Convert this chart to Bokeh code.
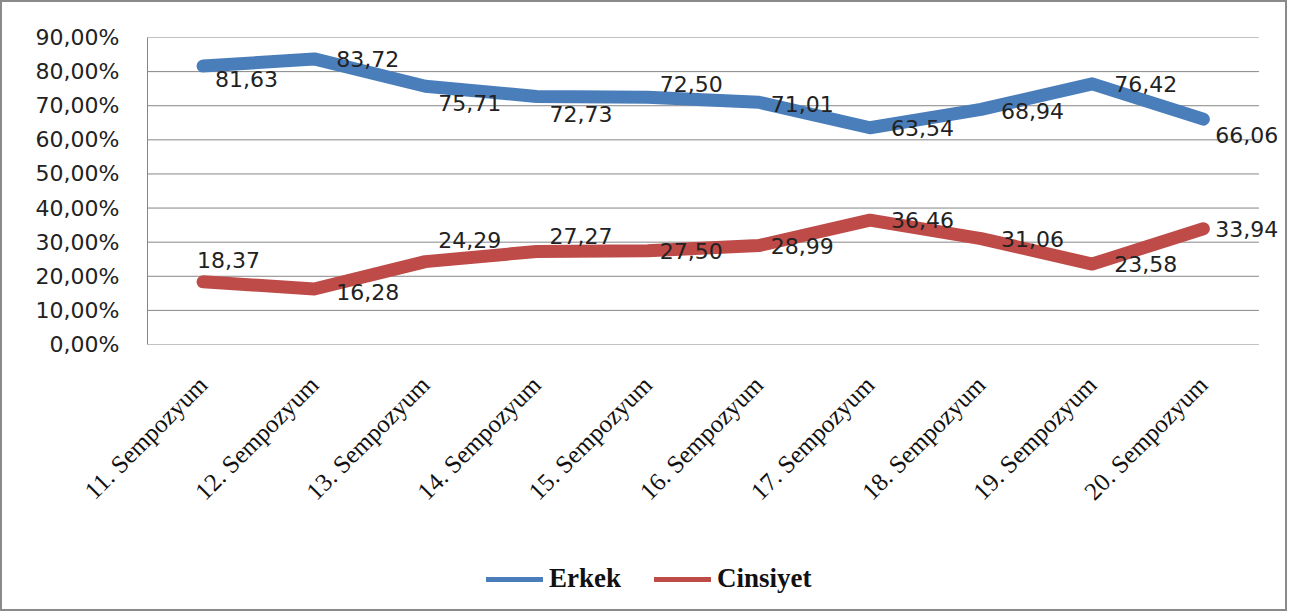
from bokeh.plotting import figure
from bokeh.models import Range1d, CustomJSTickFormatter, Legend, LegendItem, ColumnDataSource
from bokeh.layouts import column
from bokeh.core.properties import value
from bokeh.embed import file_html
from bokeh.resources import INLINE
import math

categories = ["11. Sempozyum", "12. Sempozyum", "13. Sempozyum", "14. Sempozyum", "15. Sempozyum",
              "16. Sempozyum", "17. Sempozyum", "18. Sempozyum", "19. Sempozyum", "20. Sempozyum"]
erkek = [81.63, 83.72, 75.71, 72.73, 72.50, 71.01, 63.54, 68.94, 76.42, 66.06]
cinsiyet = [18.37, 16.28, 24.29, 27.27, 27.50, 28.99, 36.46, 31.06, 23.58, 33.94]
y_ticks = [0, 10, 20, 30, 40, 50, 60, 70, 80, 90]

# label placement offsets (screen px, positive = down) relative to each point
erkek_dx = [12, 22, 13, 13, 12, 12, 21, 20, 22, 12]
erkek_dy = [13, 0, 17, 18, -13, 2, 0, 2, 0, 16]
cins_dx = [-6, 22, 13, 13, 12, 12, 21, 20, 22, 12]
cins_dy = [-22, 3, -22, -15, 0, 0, 0, 0, 0, 0]

BLUE = "#4a7ebb"
RED = "#be4b48"
GRID = "#868686"
BORDER = "2px solid #8a8a8a"

n = len(categories)
xi = list(range(n))
x_lo, x_hi = -0.5, n - 0.5

p = figure(width=1287, height=542, output_backend="svg", toolbar_location=None,
           x_range=Range1d(x_lo, x_hi + 0.23), y_range=Range1d(y_ticks[0], y_ticks[-1]),
           min_border_left=145, min_border_top=35, min_border_right=5, min_border_bottom=200)
p.styles = {"border-top": BORDER, "border-left": BORDER, "border-right": BORDER}
p.outline_line_color = None
p.background_fill_color = "white"
p.border_fill_color = "white"

p.xgrid.grid_line_color = None
p.ygrid.grid_line_color = None
# horizontal gridlines across the category span only
p.segment(x0=[x_lo] * len(y_ticks), x1=[x_hi] * len(y_ticks), y0=y_ticks, y1=y_ticks,
          line_color=GRID, line_width=1)

p.yaxis.ticker = y_ticks
p.yaxis.formatter = CustomJSTickFormatter(code="return tick.toFixed(2).replace('.', ',') + '%';")
p.yaxis.major_label_text_font = "DejaVu Sans"
p.yaxis.major_label_text_font_size = "22px"
p.yaxis.major_label_text_color = "#222222"
p.yaxis.major_label_standoff = 22
p.yaxis.axis_line_color = GRID
p.yaxis.major_tick_line_color = None
p.yaxis.minor_tick_line_color = None

p.xaxis.ticker = xi
p.xaxis.major_label_overrides = {i: c for i, c in zip(xi, categories)}
p.xaxis.major_label_orientation = math.pi / 4
p.xaxis.major_label_text_font = "Liberation Serif"
p.xaxis.major_label_text_font_size = "25px"
p.xaxis.major_label_text_color = "#111111"
p.xaxis.major_label_standoff = 30
p.xaxis.axis_line_color = None
p.xaxis.major_tick_line_color = None
p.xaxis.minor_tick_line_color = None

p.line(xi, erkek, line_color=BLUE, line_width=13, line_cap="round", line_join="round")
p.line(xi, cinsiyet, line_color=RED, line_width=13, line_cap="round", line_join="round")

def fmt(v):
    return f"{v:.2f}".replace(".", ",")

src1 = ColumnDataSource(dict(x=xi, y=erkek, t=[fmt(v) for v in erkek], dx=erkek_dx, dy=erkek_dy))
src2 = ColumnDataSource(dict(x=xi, y=cinsiyet, t=[fmt(v) for v in cinsiyet], dx=cins_dx, dy=cins_dy))
for s in (src1, src2):
    p.text(x="x", y="y", text="t", x_offset="dx", y_offset="dy", source=s,
           text_font=value("DejaVu Sans"), text_font_size="22px", text_color="#222222",
           text_align="left", text_baseline="middle")

# legend strip below the chart
lf = figure(width=1287, height=69, output_backend="svg", toolbar_location=None,
            x_range=Range1d(0, 1), y_range=Range1d(0, 1),
            min_border_left=0, min_border_right=0, min_border_top=0, min_border_bottom=0)
lf.styles = {"border-bottom": BORDER, "border-left": BORDER, "border-right": BORDER}
lf.axis.visible = False
lf.grid.visible = False
lf.outline_line_color = None
lf.border_fill_color = "white"
k1 = lf.line(x=[math.nan], y=[math.nan], line_color=BLUE, line_width=5, line_cap="round")
k2 = lf.line(x=[math.nan], y=[math.nan], line_color=RED, line_width=5, line_cap="round")
legend = Legend(items=[LegendItem(label="Erkek", renderers=[k1]), LegendItem(label="Cinsiyet", renderers=[k2])],
                orientation="horizontal", location=(339, 17), margin=0, padding=5,
                label_text_font="Liberation Serif", label_text_font_style="bold",
                label_text_font_size="27px", label_text_color="#111111",
                glyph_width=57, glyph_height=20, label_standoff=6, spacing=33,
                border_line_color=None, background_fill_alpha=0)
lf.add_layout(legend, "center")

layout = column(p, lf, spacing=0)
open("out.html", "w").write(file_html(layout, INLINE))
